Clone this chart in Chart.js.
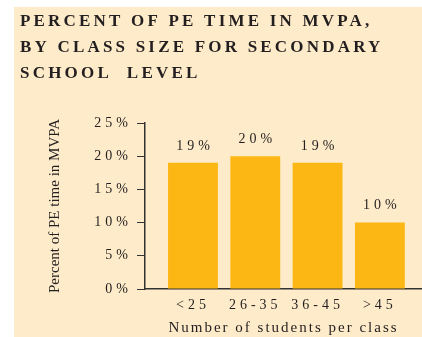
<!DOCTYPE html>
<html>
<head>
<meta charset="utf-8">
<title>Percent of PE time in MVPA</title>
<script src="https://cdn.jsdelivr.net/npm/chart.js@4"></script>
<style>
body { margin: 0; background: #fff; }
.panel { position: absolute; left: 14px; top: 7px; width: 408px; height: 330px; background: #fdebc9; }
</style>
</head>
<body>
<div class="panel"><canvas id="myChart" width="408" height="330"></canvas></div>
<script>
const titleLines = ['PERCENT OF PE TIME IN MVPA,', 'BY CLASS SIZE FOR SECONDARY', 'SCHOOL  LEVEL']
const categories = ['<25', '26-35', '36-45', '>45']
const values = [19, 20, 19, 10]
const yTicks = [0, 5, 10, 15, 20, 25]
const yTitle = 'Percent of PE time in MVPA'
const xTitle = 'Number of students per class'

const ink = '#231f20'
const serif = 'Liberation Serif'

// canvas letterSpacing only for some texts
function spaced(obj, name, ls) {
    if (!obj || obj[name].spaced) return
    const orig = obj[name]
    obj[name] = function (...args) {
        this.ctx.save()
        this.ctx.letterSpacing = ls
        orig.apply(this, args)
        this.ctx.restore()
    }
    obj[name].spaced = true
}

const spacing = {
    id: 'spacing',
    afterLayout(chart) {
        spaced(chart.titleBlock, 'draw', '3.2px')
        spaced(chart.scales.x, 'drawLabels', '4px')
        spaced(chart.scales.x, 'drawTitle', '2px')
        spaced(chart.scales.y, 'drawLabels', '4px')
    }
}

const barValues = {
    id: 'barValues',
    afterDatasetsDraw(chart) {
        const ctx = chart.ctx
        ctx.save()
        ctx.letterSpacing = '4px'
        ctx.font = '14px "' + serif + '"'
        ctx.fillStyle = ink
        ctx.textAlign = 'center'
        ctx.textBaseline = 'middle'
        chart.getDatasetMeta(0).data.forEach((bar, i) => {
            ctx.fillText(values[i] + '%', bar.x + 2, bar.y - 17)
        })
        ctx.restore()
    }
}

const ctx = document.getElementById('myChart')

new Chart(ctx, {
    type: 'bar',
    data: {
        datasets: [{
            data: categories.map((c, i) => ({ x: i, y: values[i] })),
            backgroundColor: '#fdb714',
            borderWidth: 0,
            categoryPercentage: 0.8,
            barPercentage: 1.0
        }]
    },
    options: {
        responsive: false,
        animation: false,
        layout: { padding: { left: 6, top: 0, right: 0, bottom: 0 } },
        plugins: {
            legend: { display: false },
            tooltip: { enabled: false },
            title: {
                display: true,
                text: titleLines,
                align: 'start',
                color: ink,
                font: { family: serif, size: 17, weight: 'bold', lineHeight: '26px' },
                padding: { top: 2, bottom: 36 }
            }
        },
        scales: {
            x: {
                type: 'linear',
                bounds: 'data',
                offset: false,
                min: -0.77,
                max: 3.676,
                afterBuildTicks: (scale) => { scale.ticks = categories.map((c, i) => ({ value: i })) },
                grid: { display: false, drawTicks: false, offset: false },
                border: { display: true, color: '#333', width: 1.5 },
                ticks: {
                    autoSkip: false,
                    maxRotation: 0,
                    padding: 8,
                    color: ink,
                    font: { family: serif, size: 14 },
                    callback: (v) => categories[v] ?? ''
                },
                title: {
                    display: true,
                    text: xTitle,
                    color: ink,
                    font: { family: serif, size: 15 },
                    padding: { top: 0, bottom: 0 }
                },
                afterFit: (scale) => { scale.height = 48 }
            },
            y: {
                min: 0,
                max: 25,
                afterBuildTicks: (scale) => { scale.ticks = yTicks.map(v => ({ value: v })) },
                grid: { drawOnChartArea: false, drawTicks: true, tickLength: 8, color: '#333', lineWidth: 1 },
                border: { display: true, color: '#333', width: 1.5 },
                ticks: {
                    padding: 5,
                    color: ink,
                    font: { family: serif, size: 14 },
                    callback: (v) => v + '%'
                },
                title: {
                    display: true,
                    text: yTitle,
                    color: ink,
                    font: { family: serif, size: 15 },
                    padding: { top: 26, bottom: 0 }
                },
                afterFit: (scale) => { scale.width = 125 }
            }
        }
    },
    plugins: [spacing, barValues]
})
</script>
</body>
</html>
